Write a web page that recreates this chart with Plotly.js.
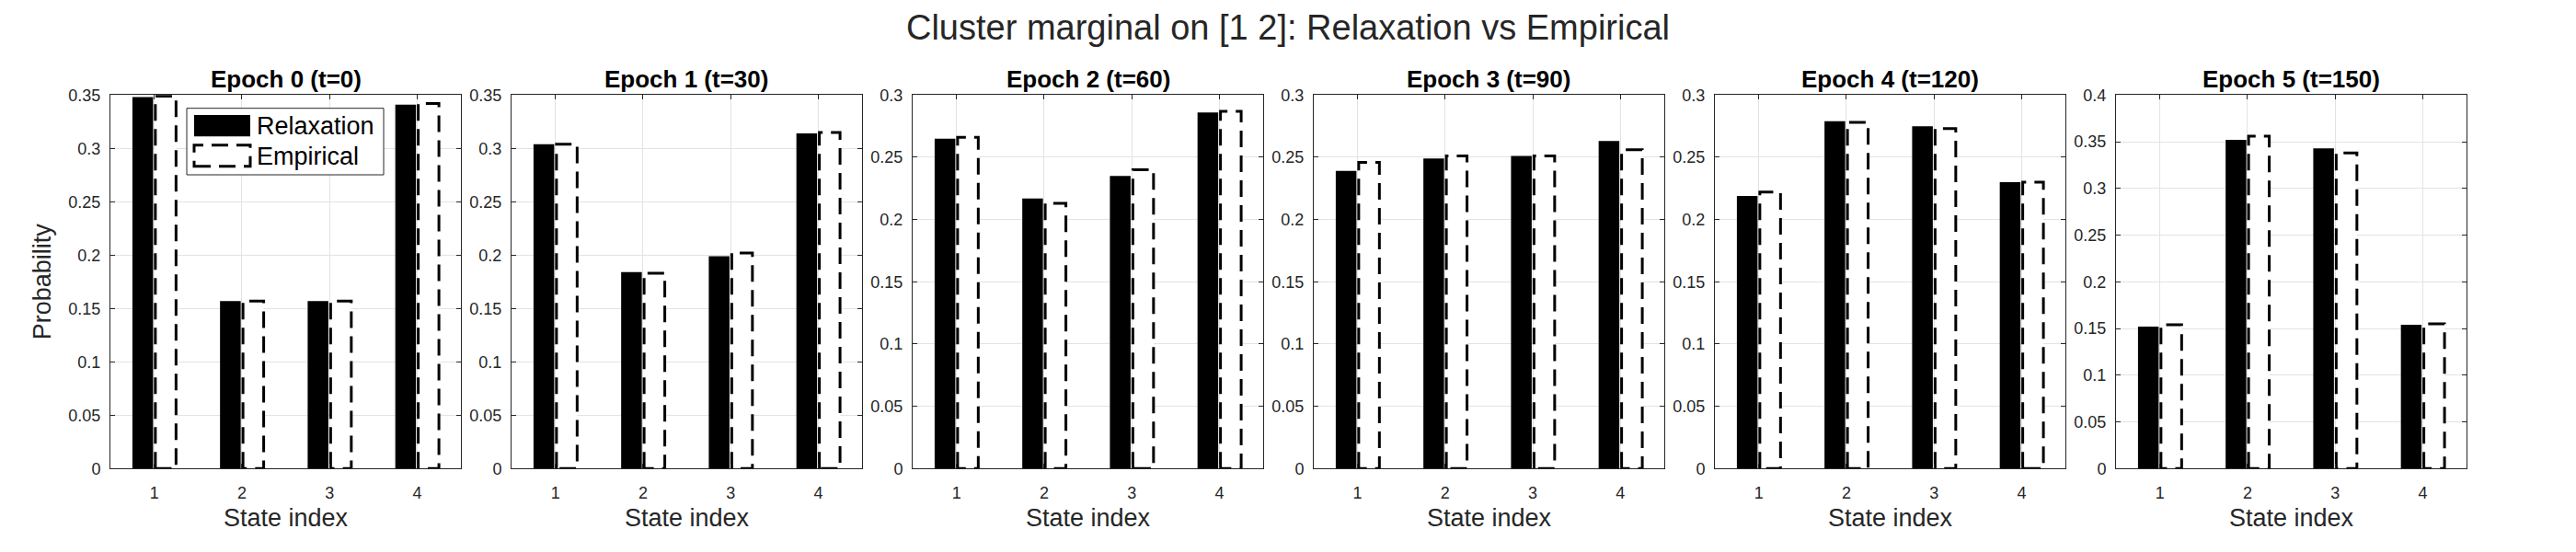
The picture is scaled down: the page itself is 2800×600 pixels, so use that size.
<!DOCTYPE html>
<html>
<head>
<meta charset="utf-8">
<script src="https://cdn.plot.ly/plotly-3.0.1.min.js"></script>
<style>html,body{margin:0;padding:0;background:#fff;}#chart{width:2800px;height:600px;}</style>
</head>
<body>
<div id="chart"></div>
<script>
// ---- data ----
const states = [1, 2, 3, 4];
const stateLabels = ['1', '2', '3', '4'];
const epochTitles = ['Epoch 0 (t=0)', 'Epoch 1 (t=30)', 'Epoch 2 (t=60)', 'Epoch 3 (t=90)', 'Epoch 4 (t=120)', 'Epoch 5 (t=150)'];
const relaxation0 = [0.348, 0.157, 0.157, 0.341];
const empirical0  = [0.349, 0.157, 0.157, 0.342];
const relaxation1 = [0.304, 0.184, 0.199, 0.314];
const empirical1  = [0.304, 0.183, 0.202, 0.315];
const relaxation2 = [0.265, 0.217, 0.235, 0.286];
const empirical2  = [0.266, 0.213, 0.240, 0.287];
const relaxation3 = [0.239, 0.249, 0.251, 0.263];
const empirical3  = [0.246, 0.251, 0.251, 0.256];
const relaxation4 = [0.219, 0.279, 0.275, 0.230];
const empirical4  = [0.222, 0.278, 0.273, 0.230];
const relaxation5 = [0.152, 0.352, 0.343, 0.154];
const empirical5  = [0.154, 0.356, 0.338, 0.155];
const yMax = [0.35, 0.35, 0.3, 0.3, 0.3, 0.4];
const seriesNames = ['Relaxation', 'Empirical'];
const mainTitle = 'Cluster marginal on [1 2]: Relaxation vs Empirical';
const xTitle = 'State index';
const yTitle = 'Probability';

const relaxation = [relaxation0, relaxation1, relaxation2, relaxation3, relaxation4, relaxation5];
const empirical = [empirical0, empirical1, empirical2, empirical3, empirical4, empirical5];

// ---- style ----
const FONT = 'Liberation Sans, Arial, Helvetica, sans-serif';
const AX = '#262626';
const GRID = '#e3e3e3';
const W = 2800, H = 600;
const BW = 0.236;          // bar width (axis units)
const OFF_R = -0.249;      // relaxation offset
const OFF_E = 0.013;       // empirical offset
const DASH = '18px,9px';

const traces = [];
const layout = {
  width: W, height: H,
  margin: {l: 0, r: 0, t: 0, b: 0},
  paper_bgcolor: '#fff', plot_bgcolor: '#fff',
  showlegend: false,
  barmode: 'overlay',
  font: {family: FONT, color: AX},
  title: {text: mainTitle, font: {family: FONT, size: 38, color: AX},
          x: 0.5, xanchor: 'center', xref: 'paper', y: 1 - 30 / H, yanchor: 'middle', yref: 'container'},
  annotations: [], shapes: []
};

const yDom = [(H - 509.3) / H, (H - 103.3) / H];
for (let k = 0; k < 6; k++) {
  const sfx = k === 0 ? '' : String(k + 1);
  const xa = 'x' + sfx, ya = 'y' + sfx;
  const left = 120 + k * 436, right = left + 381;
  const dom = [left / W, right / W];

  traces.push({type: 'bar', x: states, y: relaxation[k], name: seriesNames[0], xaxis: xa, yaxis: ya,
    width: BW, offset: OFF_R, marker: {color: '#000', line: {width: 0}}, hoverinfo: 'y'});
  traces.push({type: 'bar', x: states, y: empirical[k], name: seriesNames[1], xaxis: xa, yaxis: ya,
    width: BW, offset: OFF_E, marker: {color: '#fff', line: {width: 0}}, hoverinfo: 'y'});
  // dashed outlines of empirical bars, built from the data through the axes
  const ox = [], oy = [];
  states.forEach((s, i) => {
    const a = s + OFF_E, b = s + OFF_E + BW, v = empirical[k][i];
    ox.push(a, a, b, b, a, null);
    oy.push(0, v, v, 0, 0, null);
  });
  traces.push({type: 'scatter', mode: 'lines', x: ox, y: oy, xaxis: xa, yaxis: ya, name: seriesNames[1],
    line: {color: '#000', width: 3, dash: DASH}, hoverinfo: 'skip', connectgaps: false, cliponaxis: false});

  layout['xaxis' + sfx] = {
    domain: dom, anchor: ya, range: [0.5, 4.5], tickvals: states, ticktext: stateLabels,
    ticks: 'inside', ticklen: 5, tickcolor: AX, mirror: 'ticks', showline: true, linecolor: AX, linewidth: 1,
    showgrid: true, gridcolor: GRID, zeroline: false, fixedrange: true,
    tickfont: {family: FONT, size: 18, color: AX}, ticklabelstandoff: 10,
    title: {text: xTitle, font: {family: FONT, size: 27, color: AX}, standoff: 8}, automargin: false
  };
  layout['yaxis' + sfx] = {
    domain: yDom, anchor: xa, range: [0, yMax[k]], tick0: 0, dtick: 0.05,
    ticks: 'inside', ticklen: 5, tickcolor: AX, mirror: 'ticks', showline: true, linecolor: AX, linewidth: 1,
    showgrid: true, gridcolor: GRID, zeroline: false, fixedrange: true,
    tickfont: {family: FONT, size: 18, color: AX}, ticklabelstandoff: 6, automargin: false
  };
  if (k === 0) {
    layout['yaxis'].title = {text: yTitle, font: {family: FONT, size: 27, color: AX}, standoff: 10};
  }
  layout.annotations.push({text: epochTitles[k], xref: 'paper', yref: 'paper', x: (dom[0] + dom[1]) / 2,
    y: 1 - 86 / H, xanchor: 'center', yanchor: 'middle', showarrow: false,
    font: {family: FONT, size: 26, color: '#000', weight: 'bold'}});
}

// ---- legend (drawn inside first panel) ----
const px = v => v / W, py = v => 1 - v / H;
layout.shapes.push({type: 'rect', xref: 'paper', yref: 'paper', x0: px(203), x1: px(417), y0: py(190), y1: py(117.7),
  line: {color: AX, width: 1}, fillcolor: '#fff', layer: 'above'});
layout.shapes.push({type: 'rect', xref: 'paper', yref: 'paper', x0: px(211), x1: px(272), y0: py(148.3), y1: py(125),
  line: {width: 0}, fillcolor: '#000', layer: 'above'});
layout.shapes.push({type: 'rect', xref: 'paper', yref: 'paper', x0: px(211), x1: px(272), y0: py(180.7), y1: py(157.7),
  line: {color: '#000', width: 3, dash: DASH}, fillcolor: 'rgba(0,0,0,0)', layer: 'above'});
layout.annotations.push({text: seriesNames[0], xref: 'paper', yref: 'paper', x: px(277), y: py(137),
  xanchor: 'left', yanchor: 'middle', showarrow: false, font: {family: FONT, size: 27, color: '#000'}});
layout.annotations.push({text: seriesNames[1], xref: 'paper', yref: 'paper', x: px(277), y: py(170),
  xanchor: 'left', yanchor: 'middle', showarrow: false, font: {family: FONT, size: 27, color: '#000'}});

Plotly.newPlot('chart', traces, layout, {displayModeBar: false, staticPlot: true});
</script>
</body>
</html>
